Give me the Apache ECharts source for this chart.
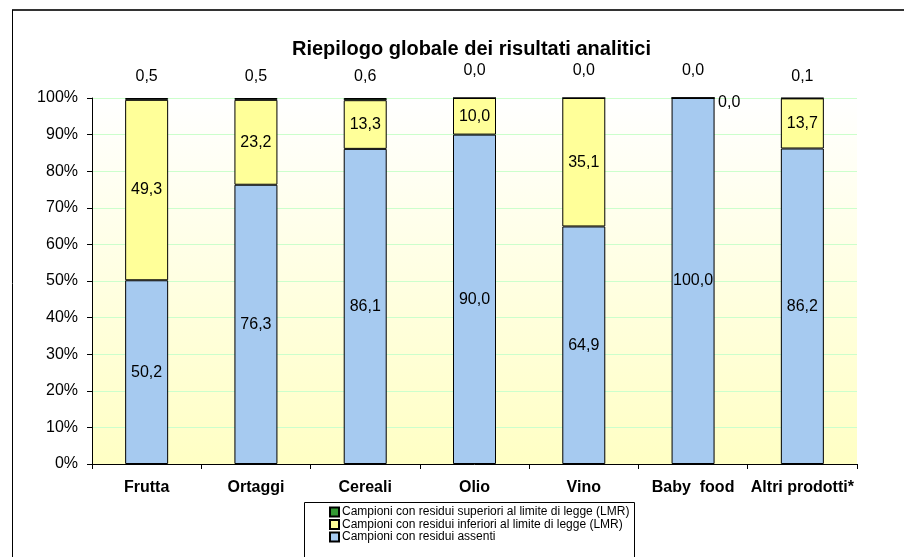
<!DOCTYPE html>
<html>
<head>
<meta charset="utf-8">
<script src="https://cdn.jsdelivr.net/npm/echarts@6/dist/echarts.min.js"></script>
<style>
  html, body { margin: 0; padding: 0; background: #fff; }
  #chart { width: 904px; height: 557px; }
</style>
</head>
<body>
<div id="chart"></div>
<script>
const categories = ['Frutta', 'Ortaggi', 'Cereali', 'Olio', 'Vino', 'Baby  food', 'Altri prodotti*'];
const assenti = [50.2, 76.3, 86.1, 90.0, 64.9, 100.0, 86.2];
const inferiori = [49.3, 23.2, 13.3, 10.0, 35.1, 0.0, 13.7];
const superiori = [0.5, 0.5, 0.6, 0.0, 0.0, 0.0, 0.1];
const yTicks = [0, 10, 20, 30, 40, 50, 60, 70, 80, 90, 100];

const names = [
    'Campioni con residui superiori al limite di legge (LMR)',
    'Campioni con residui inferiori al limite di legge (LMR)',
    'Campioni con residui assenti',
];

const fmt = (v) => v.toFixed(1).replace('.', ',');
const font = 'Liberation Sans, Arial, sans-serif';

const chart = echarts.init(document.getElementById('chart'));

const labelBase = {
    show: true,
    color: '#000',
    fontSize: 16,
    fontFamily: font,
    formatter: (p) => fmt(p.value),
};

const option = {
    animation: false,
    title: {
        text: 'Riepilogo globale dei risultati analitici',
        left: 287,
        top: 34,
        textStyle: { fontSize: 20, fontWeight: 'bold', fontFamily: font, color: '#000' },
    },
    grid: {
        left: 92,
        right: 47,
        top: 98,
        bottom: 93,
        show: true,
        borderWidth: 0,
        backgroundColor: new echarts.graphic.LinearGradient(0, 0, 0, 1, [
            { offset: 0, color: '#ffffff' },
            { offset: 1, color: '#ffffc4' },
        ]),
    },
    legend: {
        orient: 'vertical',
        left: 329,
        top: 506,
        data: names,
        icon: 'rect',
        itemWidth: 9,
        itemHeight: 9,
        itemGap: 0.5,
        padding: 0,
        textStyle: { fontSize: 12, fontFamily: font, color: '#000', lineHeight: 12, padding: [0, 0, 0, -2] },
    },
    xAxis: {
        type: 'category',
        data: categories,
        axisLine: { lineStyle: { color: '#000', width: 1 } },
        axisTick: { show: true, interval: 0, length: 5, lineStyle: { color: '#000' } },
        axisLabel: {
            interval: 0,
            margin: 16,
            fontSize: 16,
            fontWeight: 'bold',
            fontFamily: font,
            color: '#000',
        },
    },
    yAxis: {
        type: 'value',
        min: yTicks[0],
        max: yTicks[yTicks.length - 1],
        interval: 10,
        axisLine: { show: true, lineStyle: { color: '#000', width: 1 } },
        axisTick: { show: true, length: 5, lineStyle: { color: '#000' } },
        axisLabel: { margin: 14, fontSize: 16, fontFamily: font, color: '#000', formatter: '{value}%' },
        splitLine: { show: true, lineStyle: { color: '#ccffcc', width: 1 } },
    },
    series: [
        {
            name: names[2],
            type: 'bar',
            stack: 'tot',
            barWidth: 43,
            data: assenti,
            itemStyle: { color: '#a6caf0', borderColor: '#000', borderWidth: 1 },
            label: { ...labelBase, position: 'inside' },
        },
        {
            name: names[1],
            type: 'bar',
            stack: 'tot',
            data: inferiori.map((v) =>
                v === 0
                    ? { value: v, label: { position: 'right', distance: 3, offset: [0, 5] } }
                    : v,
            ),
            itemStyle: { color: '#ffff99', borderColor: '#000', borderWidth: 1 },
            label: { ...labelBase, position: 'inside' },
        },
        {
            name: names[0],
            type: 'bar',
            stack: 'tot',
            data: superiori.map((v) => ({ value: v, label: { distance: v === 0 ? 19 : 13 } })),
            itemStyle: { color: '#339933', borderColor: '#000', borderWidth: 1 },
            label: { ...labelBase, position: 'top' },
        },
    ],
    graphic: [
        {
            type: 'line',
            shape: { x1: 12, y1: 10, x2: 904, y2: 10 },
            style: { stroke: '#333', lineWidth: 2 },
        },
        {
            type: 'line',
            shape: { x1: 12.5, y1: 10, x2: 12.5, y2: 557 },
            style: { stroke: '#000', lineWidth: 1 },
        },
        {
            type: 'rect',
            shape: { x: 304.5, y: 502.5, width: 330, height: 80 },
            style: { fill: null, stroke: '#000', lineWidth: 1 },
        },
    ],
};

chart.setOption(option);
</script>
</body>
</html>
